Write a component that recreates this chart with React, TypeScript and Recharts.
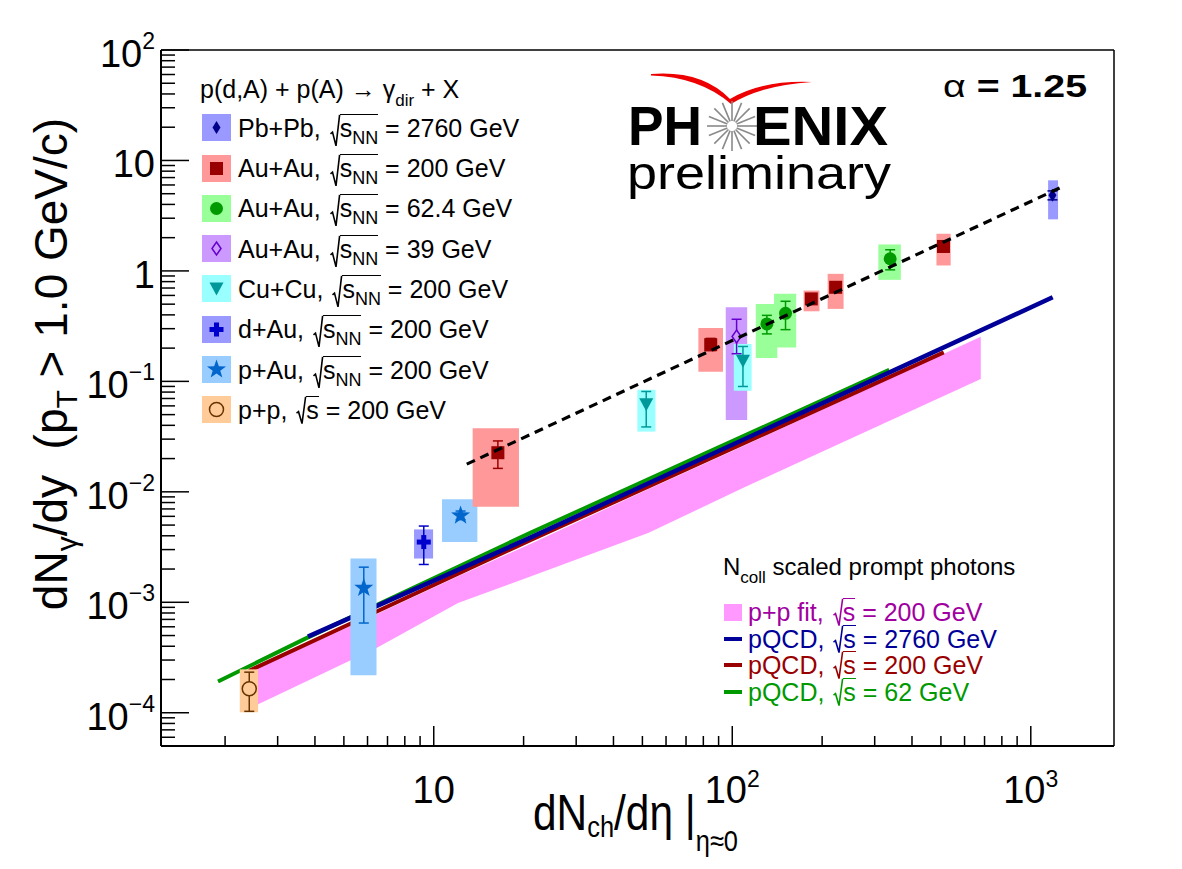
import React from 'react';
import {
  ComposedChart,
  XAxis,
  YAxis,
  Area,
  Line,
  Scatter,
  ErrorBar,
  ReferenceArea,
  ReferenceLine,
} from 'recharts';

const FONT = "'Liberation Sans', Arial, Helvetica, sans-serif";

// axis ranges and labelled decades
const xDomain = [1.22, 1900];
const yDomain = [5e-5, 100];
const xMajor = [10, 100, 1000];
const xMajorExp = ['', '2', '3'];
const yMajor = [1e-4, 1e-3, 1e-2, 1e-1, 1, 10, 100];
const yMajorBase = ['10', '10', '10', '10', '1', '10', '10'];
const yMajorExp = ['\u22124', '\u22123', '\u22122', '\u22121', '', '', '2'];

// measured points: x, y, stat. error (lo/hi), systematic box (x0..x1, y0..y1)
const ppData = [
  { x: 2.41, y: 1.65e-4, lo: 1.03e-4, hi: 2.33e-4, x0: 2.24, x1: 2.58, y0: 1.01e-4, y1: 2.47e-4 },
];
const pAuData = [
  { x: 5.83, y: 1.35e-3, lo: 6.49e-4, hi: 2.08e-3, x0: 5.26, x1: 6.43, y0: 2.18e-4, y1: 2.49e-3 },
  { x: 12.3, y: 6.1e-3, lo: 5.6e-3, hi: 6.7e-3, x0: 10.66, x1: 14.0, y0: 3.51e-3, y1: 8.55e-3 },
];
const dAuData = [
  { x: 9.26, y: 3.51e-3, lo: 2.2e-3, hi: 4.9e-3, x0: 8.59, x1: 9.95, y0: 2.49e-3, y1: 4.57e-3 },
];
const auAu200Data = [
  { x: 16.4, y: 0.0226, lo: 0.0163, hi: 0.0289, x0: 13.5, x1: 19.3, y0: 0.00733, y1: 0.0377 },
  { x: 84.7, y: 0.215, lo: 0.19, hi: 0.245, x0: 77.0, x1: 93.1, y0: 0.122, y1: 0.305 },
  { x: 184, y: 0.558, lo: 0.5, hi: 0.62, x0: 173.4, x1: 195.9, y0: 0.431, y1: 0.664 },
  { x: 222, y: 0.711, lo: 0.64, hi: 0.79, x0: 208.7, x1: 236, y0: 0.453, y1: 0.941 },
  { x: 510, y: 1.665, lo: 1.5, hi: 1.85, x0: 483, x1: 539, y0: 1.12, y1: 2.17 },
];
const auAu62Data = [
  { x: 130.6, y: 0.331, lo: 0.269, hi: 0.396, x0: 119.9, x1: 141.5, y0: 0.163, y1: 0.502 },
  { x: 150.8, y: 0.413, lo: 0.294, hi: 0.531, x0: 138, x1: 163.7, y0: 0.203, y1: 0.62 },
  { x: 338, y: 1.288, lo: 1.023, hi: 1.554, x0: 308.6, x1: 367.1, y0: 0.83, y1: 1.736 },
];
const auAu39Data = [
  { x: 103.4, y: 0.255, lo: 0.178, hi: 0.365, x0: 95.1, x1: 112.2, y0: 0.0446, y1: 0.469 },
];
const cuCuData = [
  { x: 51.5, y: 0.0622, lo: 0.0387, hi: 0.081, x0: 48.1, x1: 55.3, y0: 0.0351, y1: 0.0839 },
  { x: 108.6, y: 0.154, lo: 0.0899, hi: 0.207, x0: 101.2, x1: 116.1, y0: 0.0822, y1: 0.218 },
];
const pbPbData = [
  { x: 1182, y: 4.83, lo: 4.4, hi: 5.3, x0: 1143, x1: 1234, y0: 2.93, y1: 6.61 },
];

// Ncoll-scaled p+p fit band
const bandX = [2.437, 6.43, 12.06, 20.97, 52.5, 109, 680];
const bandLow = [1.11e-4, 3.85e-4, 9.86e-4, 1.7e-3, 4.26e-3, 1.089e-2, 0.105];
const bandHigh = [2.37e-4, 7.78e-4, 1.72e-3, 3.36e-3, 0.0106, 0.026, 0.254];

// pQCD curves
const pqcd62X = [1.894, 3.79, 20.97, 335.6];
const pqcd62Y = [1.92e-4, 4.81e-4, 4.23e-3, 0.127];
const pqcd200X = [2.405, 20.97, 511];
const pqcd200Y = [2.4e-4, 3.63e-3, 0.183];
const pqcd2760X = [3.79, 20.97, 1184];
const pqcd2760Y = [4.89e-4, 3.83e-3, 0.577];

// power-law fit, alpha = 1.25
const fitX = [12.9, 1270];
const fitY = [0.0178, 5.75];

const legendSystems = ['Pb+Pb', 'Au+Au', 'Au+Au', 'Au+Au', 'Cu+Cu', 'd+Au', 'p+Au', 'p+p'];
const legendEnergies = ['2760', '200', '62.4', '39', '200', '200', '200', '200'];
const legendMarkers = ['diamond', 'square', 'circle', 'openDiamond', 'triangle', 'cross', 'star', 'openCircle'];
const legendBoxes = ['#9999ff', '#ff9999', '#99ff99', '#cc99ff', '#99ffff', '#9999ff', '#99ccff', '#ffcc99'];

const promptLabels = ['200 GeV', '2760 GeV', '200 GeV', '62 GeV'];
const promptColors = ['#a000a0', '#000099', '#990000', '#009900'];

const toXY = (xs: number[], ys: number[]) => xs.map((x, i) => ({ x, y: ys[i] }));
const withErr = (rows: any[]) => rows.map((r) => ({ ...r, err: [r.y - r.lo, r.hi - r.y] }));

const logTicks = (lo: number, hi: number) => {
  const out: number[] = [];
  for (let e = Math.floor(Math.log10(lo)); e <= Math.ceil(Math.log10(hi)); e++) {
    for (let m = 1; m < 10; m++) {
      const v = m * Math.pow(10, e);
      if (v >= lo * 0.999 && v <= hi * 1.001) out.push(v);
    }
  }
  return out;
};
const xTicks = logTicks(xDomain[0], xDomain[1]);
const yTicks = logTicks(yDomain[0], yDomain[1]);
const findMajor = (list: number[], v: number) => list.findIndex((m) => Math.abs(m - v) / m < 1e-6);

const XTick = (props: any) => {
  const { x, y, payload } = props;
  const i = findMajor(xMajor, payload.value);
  const major = i >= 0;
  return (
    <g>
      <line x1={x} x2={x} y1={y} y2={y - (major ? 20 : 10)} stroke="#000" strokeWidth={1.5} />
      {major && (
        <text x={x} y={y + 57} textAnchor="middle" fontSize={38} fontFamily={FONT} fill="#000">
          10
          {xMajorExp[i] && (
            <tspan dy={-16} fontSize={23}>
              {xMajorExp[i]}
            </tspan>
          )}
        </text>
      )}
    </g>
  );
};

const YTick = (props: any) => {
  const { x, y, payload } = props;
  const i = findMajor(yMajor, payload.value);
  const major = i >= 0;
  return (
    <g>
      <line x1={x} x2={x + (major ? 28 : 14)} y1={y} y2={y} stroke="#000" strokeWidth={1.5} />
      {major && (
        <text x={x - 6} y={y + 17} textAnchor="end" fontSize={38} fontFamily={FONT} fill="#000">
          {yMajorBase[i]}
          {yMajorExp[i] && (
            <tspan dy={-18} fontSize={23}>
              {yMajorExp[i]}
            </tspan>
          )}
        </text>
      )}
    </g>
  );
};

const starPoints = (cx: number, cy: number, ro: number, ri: number) =>
  Array.from({ length: 10 }, (_, k) => {
    const r = k % 2 === 0 ? ro : ri;
    const a = -Math.PI / 2 + (k * Math.PI) / 5;
    return `${cx + r * Math.cos(a)},${cy + r * Math.sin(a)}`;
  }).join(' ');

const Marker = ({ kind, cx, cy }: { kind: string; cx: number; cy: number }) => {
  switch (kind) {
    case 'diamond':
      return <polygon points={`${cx},${cy - 6.5} ${cx + 4},${cy} ${cx},${cy + 6.5} ${cx - 4},${cy}`} fill="#00008b" />;
    case 'square':
      return <rect x={cx - 6.5} y={cy - 6.5} width={13} height={13} fill="#990000" />;
    case 'circle':
      return <circle cx={cx} cy={cy} r={6.5} fill="#009900" />;
    case 'openDiamond':
      return (
        <polygon
          points={`${cx},${cy - 6.5} ${cx + 4.5},${cy} ${cx},${cy + 6.5} ${cx - 4.5},${cy}`}
          fill="#cc99ff"
          stroke="#6600cc"
          strokeWidth={1.5}
        />
      );
    case 'triangle':
      return <polygon points={`${cx - 7},${cy - 6} ${cx + 7},${cy - 6} ${cx},${cy + 7}`} fill="#009999" />;
    case 'cross':
      return (
        <g fill="#0000cc">
          <rect x={cx - 7} y={cy - 2.5} width={14} height={5} />
          <rect x={cx - 2.5} y={cy - 7} width={5} height={14} />
        </g>
      );
    case 'star':
      return <polygon points={starPoints(cx, cy, 10, 4)} fill="#0066cc" />;
    case 'openCircle':
      return <circle cx={cx} cy={cy} r={7} fill="#ffcc99" stroke="#663300" strokeWidth={1.5} />;
    default:
      return null;
  }
};

const Sqrt = ({ children }: { children: React.ReactNode }) => (
  <span style={{ position: 'relative', display: 'inline-block', lineHeight: 1.1, paddingLeft: 10, marginLeft: 2 }}>
    <svg
      width={10}
      height="100%"
      viewBox="0 0 10 30"
      preserveAspectRatio="none"
      style={{ position: 'absolute', left: 0, top: 0, overflow: 'visible' }}
    >
      <path
        d="M0.5,18 L2.5,16.5 L6,29 L9.6,0.8"
        fill="none"
        stroke="currentColor"
        strokeWidth={1.6}
        vectorEffect="non-scaling-stroke"
      />
    </svg>
    <span style={{ display: 'inline-block', borderTop: '1.6px solid currentColor' }}>{children}</span>
  </span>
);

const Sub = ({ children, size = 18, drop = 7 }: { children: React.ReactNode; size?: number; drop?: number }) => (
  <span style={{ fontSize: size, verticalAlign: -drop, lineHeight: 1 }}>{children}</span>
);

const series = [
  { data: ppData, kind: 'openCircle', box: '#ffcc99', color: '#663300' },
  { data: pAuData, kind: 'star', box: '#99ccff', color: '#0066cc' },
  { data: dAuData, kind: 'cross', box: '#9999ff', color: '#0000cc' },
  { data: auAu200Data, kind: 'square', box: '#ff9999', color: '#990000' },
  { data: auAu62Data, kind: 'circle', box: '#99ff99', color: '#009900' },
  { data: auAu39Data, kind: 'openDiamond', box: '#cc99ff', color: '#6600cc' },
  { data: cuCuData, kind: 'triangle', box: '#99ffff', color: '#009999' },
  { data: pbPbData, kind: 'diamond', box: '#9999ff', color: '#00008b' },
];

export default function App() {
  const bandData = bandX.map((x, i) => ({ x, band: [bandLow[i], bandHigh[i]] }));
  const spokes = Array.from({ length: 16 }, (_, k) => (k * Math.PI) / 8);

  return (
    <div
      style={{
        position: 'absolute',
        left: 0,
        top: 0,
        width: 1182,
        height: 869,
        background: '#fff',
        fontFamily: FONT,
        color: '#000',
      }}
    >
      <ComposedChart width={1182} height={869} margin={{ top: 50, right: 68, bottom: 0, left: 0 }}>
        <XAxis
          dataKey="x"
          type="number"
          scale="log"
          domain={xDomain}
          allowDataOverflow
          ticks={xTicks}
          interval={0}
          tick={(p: any) => <XTick {...p} />}
          tickLine={false}
          tickSize={0}
          tickMargin={0}
          axisLine={{ stroke: '#000', strokeWidth: 2 }}
          height={123}
        />
        <YAxis
          type="number"
          scale="log"
          domain={yDomain}
          allowDataOverflow
          ticks={yTicks}
          interval={0}
          tick={(p: any) => <YTick {...p} />}
          tickLine={false}
          tickSize={0}
          tickMargin={0}
          axisLine={{ stroke: '#000', strokeWidth: 2 }}
          width={161}
        />

        <Area
          data={bandData}
          dataKey="band"
          type="linear"
          stroke="none"
          fill="#ff99ff"
          fillOpacity={1}
          isAnimationActive={false}
        />
        <Line data={toXY(pqcd200X, pqcd200Y)} dataKey="y" stroke="#990000" strokeWidth={4} dot={false} isAnimationActive={false} />
        <Line data={toXY(pqcd62X, pqcd62Y)} dataKey="y" stroke="#009900" strokeWidth={4} dot={false} isAnimationActive={false} />
        <Line data={toXY(pqcd2760X, pqcd2760Y)} dataKey="y" stroke="#000099" strokeWidth={4.5} dot={false} isAnimationActive={false} />

        {series.flatMap((s, si) =>
          s.data.map((d, di) => (
            <ReferenceArea
              key={`box-${si}-${di}`}
              x1={d.x0}
              x2={d.x1}
              y1={d.y0}
              y2={d.y1}
              fill={s.box}
              fillOpacity={1}
              stroke="none"
              ifOverflow="visible"
              zIndex={450}
            />
          ))
        )}

        {series.map((s, si) => (
          <Scatter
            key={`pts-${si}`}
            data={withErr(s.data)}
            dataKey="y"
            isAnimationActive={false}
            zIndex={600}
            shape={(p: any) => <Marker kind={s.kind} cx={p.cx} cy={p.cy} />}
          >
            <ErrorBar dataKey="err" direction="y" width={5} stroke={s.color} strokeWidth={1.5} zIndex={550} />
          </Scatter>
        ))}

        <Line
          data={toXY(fitX, fitY)}
          dataKey="y"
          stroke="#000"
          strokeWidth={3.2}
          strokeDasharray="9 6"
          dot={false}
          isAnimationActive={false}
          zIndex={700}
        />

        <ReferenceLine y={yDomain[1]} stroke="#000" strokeWidth={1.5} ifOverflow="visible" />
        <ReferenceLine x={xDomain[1]} stroke="#000" strokeWidth={1.5} ifOverflow="visible" />
      </ComposedChart>

      <svg
        width={1182}
        height={869}
        style={{ position: 'absolute', left: 0, top: 0, pointerEvents: 'none' }}
        fontFamily={FONT}
      >
        {/* axis titles */}
        <text transform="translate(67,364) rotate(-90)" textAnchor="middle" fontSize={46} style={{ whiteSpace: 'pre' }}>
          dN
          <tspan fontSize={30} dy={10}>
            γ
          </tspan>
          <tspan dy={-10}>{'/dy  (p'}</tspan>
          <tspan fontSize={30} dy={10}>
            T
          </tspan>
          <tspan dy={-10}>{' > 1.0 GeV/c)'}</tspan>
        </text>
        <text x={533} y={830} fontSize={50} textLength={205} lengthAdjust="spacingAndGlyphs" style={{ whiteSpace: 'pre' }}>
          dN
          <tspan fontSize={30} dy={7}>
            ch
          </tspan>
          <tspan dy={-7}>{'/dη |'}</tspan>
          <tspan fontSize={30} dy={21}>
            η≈0
          </tspan>
        </text>

        {/* logo */}
        <path
          d="M651,74 Q702,70 730,99 Q762,80 812,82 Q762,85 731,104 Q700,77 651,75.5 Z"
          fill="#ee0000"
        />
        <text x={628} y={145} fontSize={56} fontWeight="bold" textLength={74} lengthAdjust="spacingAndGlyphs">
          PH
        </text>
        <g stroke="#8a8a8a" strokeWidth={1.6}>
          {spokes.map((a, k) => (
            <line
              key={k}
              x1={732 + 5 * Math.cos(a)}
              y1={126 + 5 * Math.sin(a)}
              x2={732 + 25 * Math.cos(a)}
              y2={126 + 25 * Math.sin(a)}
            />
          ))}
        </g>
        <text x={753} y={145} fontSize={56} fontWeight="bold" textLength={135} lengthAdjust="spacingAndGlyphs">
          ENIX
        </text>
        <text x={627} y={189} fontSize={47} textLength={264} lengthAdjust="spacingAndGlyphs">
          preliminary
        </text>
        <text x={943} y={97} fontSize={31} fontWeight="bold" textLength={144} lengthAdjust="spacingAndGlyphs">
          <tspan fontWeight="normal">α</tspan>
          {' = 1.25'}
        </text>
      </svg>

      {/* data legend */}
      <div style={{ position: 'absolute', left: 200, top: 69, height: 40, lineHeight: '40px', fontSize: 25, whiteSpace: 'nowrap' }}>
        {'p(d,A) + p(A) → γ'}
        <Sub size={17} drop={8}>dir</Sub>
        {' + X'}
      </div>
      {legendSystems.map((name, i) => {
        const c = 127.7 + 40.3 * i;
        return (
          <React.Fragment key={i}>
            <div style={{ position: 'absolute', left: 202, top: c - 13.5, width: 29, height: 27, background: legendBoxes[i] }}>
              <svg width={29} height={27} style={{ position: 'absolute', left: 0, top: 0 }}>
                <Marker kind={legendMarkers[i]} cx={14.5} cy={13.5} />
              </svg>
            </div>
            <div
              style={{
                position: 'absolute',
                left: 238,
                top: c - 20,
                height: 40,
                lineHeight: '40px',
                fontSize: 25,
                whiteSpace: 'nowrap',
              }}
            >
              {name + ', '}
              <Sqrt>
                s{name !== 'p+p' && <Sub>NN</Sub>}
              </Sqrt>
              {` = ${legendEnergies[i]} GeV`}
            </div>
          </React.Fragment>
        );
      })}

      {/* prompt photon legend */}
      <div style={{ position: 'absolute', left: 723, top: 547, height: 40, lineHeight: '40px', fontSize: 24, whiteSpace: 'nowrap' }}>
        N<Sub size={17} drop={8}>coll</Sub>
        {' scaled prompt photons'}
      </div>
      {promptLabels.map((label, i) => {
        const c = 612 + 26.7 * i;
        return (
          <React.Fragment key={i}>
            {i === 0 ? (
              <div style={{ position: 'absolute', left: 724, top: c - 8.5, width: 18, height: 17, background: '#ff99ff' }} />
            ) : (
              <div style={{ position: 'absolute', left: 724, top: c - 2, width: 18, height: 4, background: promptColors[i] }} />
            )}
            <div
              style={{
                position: 'absolute',
                left: 748,
                top: c - 14,
                height: 28,
                lineHeight: '28px',
                fontSize: 25,
                whiteSpace: 'nowrap',
                color: promptColors[i],
              }}
            >
              {i === 0 ? 'p+p fit, ' : 'pQCD, '}
              <Sqrt>s</Sqrt>
              {` = ${label}`}
            </div>
          </React.Fragment>
        );
      })}
    </div>
  );
}
